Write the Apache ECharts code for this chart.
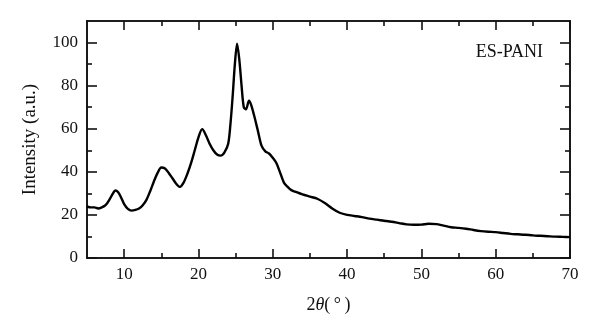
<!DOCTYPE html>
<html>
<head>
<meta charset="utf-8">
<script src="https://cdn.jsdelivr.net/npm/echarts@6/dist/echarts.min.js"></script>
<style>
  html, body { margin: 0; padding: 0; background: #fff; }
  #chart { width: 600px; height: 336px; }
</style>
</head>
<body>
<div id="chart"></div>
<script>
// XRD pattern
const twoTheta = [5, 5.5, 6, 6.5, 7, 7.5, 8, 8.5, 8.8, 9.2, 9.6, 10, 10.5, 11, 11.5, 12, 12.5, 13, 13.5, 14,
  14.5, 15, 15.5, 16, 16.5, 17, 17.5, 18, 18.5, 19, 19.5, 20, 20.5, 21, 21.5, 22, 22.5, 23, 23.5, 24,
  24.3, 24.6, 24.9, 25.2, 25.5, 25.8, 26.1, 26.4, 26.8, 27.1, 27.5, 28, 28.5, 29, 29.5, 30, 30.5, 31,
  31.5, 32, 32.5, 33, 34, 35, 36, 37, 38, 39, 40, 41, 42, 43, 44, 45, 46, 47, 48, 49, 50, 51, 52, 53,
  54, 55, 56, 57, 58, 59, 60, 61, 62, 63, 64, 65, 66, 67, 68, 69, 70];
const intensity = [24, 23.5, 23.5, 23, 23.5, 24.5, 27, 30, 31.3, 30.5, 28, 25, 22.8, 22, 22.3, 23, 24.5, 27, 31, 35.5,
  39.5, 42, 41.5, 39.5, 37, 34.5, 33, 35, 39, 44, 50, 56, 59.8, 57, 53, 50, 48, 47.5, 49, 53,
  62, 75, 90, 99.5, 92, 80, 70, 69, 73, 71, 66, 59, 52, 49.5, 48.5, 46.5, 44, 39.5,
  35, 33, 31.5, 30.8, 29.5, 28.5, 27.5, 25.5, 23, 21, 20, 19.5, 19, 18.3, 17.8, 17.3, 16.8, 16.2, 15.6, 15.4, 15.5, 15.9, 15.7, 15,
  14.3, 14, 13.6, 13, 12.5, 12.2, 12, 11.6, 11.2, 11, 10.8, 10.5, 10.3, 10.1, 9.9, 9.8, 9.7];

const xMajor = [10, 20, 30, 40, 50, 60, 70];
const xMinor = [15, 25, 35, 45, 55, 65];
const yMajor = [0, 20, 40, 60, 80, 100];
const yMinor = [10, 30, 50, 70, 90];

const font = '"Liberation Serif", "DejaVu Serif", serif';
const lineStyle = { color: '#111', width: 1.6 };

function xAx(pos, ticks, len, labels) {
  return {
    type: 'value', position: pos, min: 5, max: 70,
    axisLine: { show: true, onZero: false, lineStyle },
    axisTick: { show: true, inside: true, length: len, customValues: ticks, lineStyle },
    axisLabel: labels ? { show: true, customValues: ticks, color: '#111', fontFamily: font, fontSize: 17, margin: 8 } : { show: false },
    splitLine: { show: false }
  };
}
function yAx(pos, ticks, len, labels) {
  return {
    type: 'value', position: pos, min: 0, max: 110,
    axisLine: { show: true, onZero: false, lineStyle },
    axisTick: { show: true, inside: true, length: len, customValues: ticks, lineStyle },
    axisLabel: labels ? { show: true, customValues: ticks, color: '#111', fontFamily: font, fontSize: 17, margin: 9 } : { show: false },
    splitLine: { show: false }
  };
}

const xAxes = [xAx('bottom', xMajor, 9, true), xAx('bottom', xMinor, 5, false),
  xAx('top', xMajor, 9, false), xAx('top', xMinor, 5, false)];
xAxes[0].name = '2{i|θ}(\u2009°\u2009)';
xAxes[0].nameLocation = 'middle';
xAxes[0].nameGap = 38;
xAxes[0].nameTextStyle = { color: '#111', fontFamily: font, fontSize: 18, rich: { i: { fontStyle: 'italic', fontFamily: font, fontSize: 18, color: '#111' } } };

const yAxes = [yAx('left', yMajor, 10, true), yAx('left', yMinor, 5, false),
  yAx('right', yMajor, 10, false), yAx('right', yMinor, 5, false)];
yAxes[0].name = 'Intensity (a.u.)';
yAxes[0].nameLocation = 'middle';
yAxes[0].nameGap = 47;
yAxes[0].nameTextStyle = { color: '#111', fontFamily: font, fontSize: 19 };

const chart = echarts.init(document.getElementById('chart'), null, { renderer: 'canvas' });
chart.setOption({
  animation: false,
  backgroundColor: '#fff',
  grid: { left: 87, right: 30, top: 21, bottom: 78 },
  xAxis: xAxes,
  yAxis: yAxes,
  graphic: [{
    type: 'text', right: 57, top: 43,
    style: { text: 'ES-PANI', fill: '#111', font: '18px ' + font }
  }],
  series: [{
    type: 'line',
    xAxisIndex: 0, yAxisIndex: 0,
    data: twoTheta.map((t, i) => [t, intensity[i]]),
    showSymbol: false,
    smooth: 0.3,
    lineStyle: { color: '#000', width: 2.4 }
  }]
});
</script>
</body>
</html>
